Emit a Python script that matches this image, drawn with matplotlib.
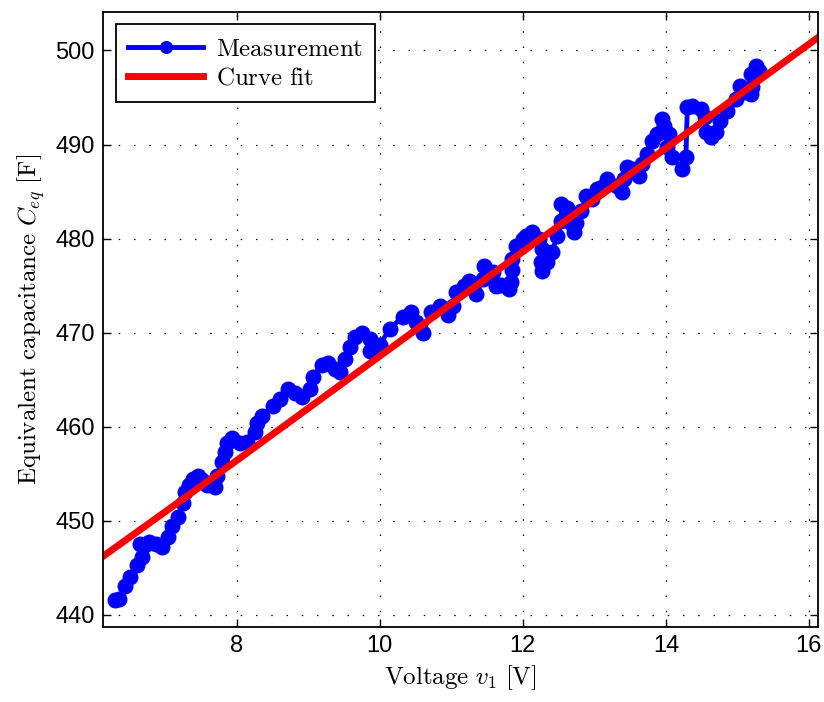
import matplotlib
matplotlib.use("Agg")
import matplotlib.pyplot as plt

plt.rcParams["mathtext.fontset"] = "cm"

# Measured equivalent capacitance vs. voltage
volt = [
    6.30, 6.36, 6.44, 6.51, 6.60, 6.67, 6.65, 6.72, 6.78, 6.87,
    6.95, 7.04, 7.09, 7.18, 7.25, 7.27, 7.33, 7.39, 7.46, 7.52,
    7.58, 7.69, 7.73, 7.79, 7.83, 7.87, 7.93, 8.04, 8.14, 8.25,
    8.28, 8.36, 8.50, 8.60, 8.71, 8.81, 8.91, 9.02, 9.06, 9.19,
    9.27, 9.37, 9.44, 9.51, 9.58, 9.65, 9.75, 9.86, 9.86, 9.97,
    10.00, 10.14, 10.32, 10.44, 10.51, 10.60, 10.72, 10.84, 10.95, 11.02,
    11.07, 11.18, 11.25, 11.35, 11.44, 11.46, 11.58, 11.63, 11.70, 11.81,
    11.84, 11.85, 11.85, 11.91, 12.00, 12.05, 12.13, 12.23, 12.27, 12.26,
    12.27, 12.34, 12.41, 12.48, 12.54, 12.54, 12.62, 12.68, 12.72, 12.75,
    12.82, 12.89, 12.97, 13.04, 13.11, 13.18, 13.31, 13.38, 13.42, 13.45,
    13.53, 13.63, 13.67, 13.74, 13.81, 13.87, 13.94, 13.98, 14.05, 14.02,
    14.09, 14.22, 14.28, 14.30, 14.37, 14.49, 14.54, 14.56, 14.63, 14.70,
    14.75, 14.86, 14.98, 15.03, 15.12, 15.19, 15.21, 15.19, 15.26, 15.30,
]
cap = [
    441.6, 441.7, 443.0, 444.0, 445.3, 446.1, 447.5, 447.4, 447.7, 447.5,
    447.2, 448.3, 449.4, 450.4, 451.9, 453.0, 453.8, 454.4, 454.7, 454.3,
    453.8, 453.6, 454.7, 456.2, 457.3, 458.3, 458.8, 458.3, 458.4, 459.4,
    460.4, 461.1, 462.2, 462.9, 464.0, 463.6, 463.1, 464.0, 465.3, 466.6,
    466.8, 466.1, 465.8, 467.2, 468.5, 469.5, 470.0, 469.3, 468.0, 468.5,
    468.7, 470.4, 471.7, 472.2, 471.1, 470.0, 472.2, 472.8, 471.9, 472.8,
    474.3, 474.9, 475.5, 474.1, 475.7, 477.1, 476.4, 474.9, 475.1, 474.6,
    475.4, 476.7, 477.8, 479.2, 479.9, 480.3, 480.7, 479.9, 478.9, 477.5,
    476.5, 477.5, 478.6, 480.3, 481.9, 483.7, 483.3, 481.7, 480.7, 481.7,
    482.9, 484.5, 484.2, 485.3, 485.5, 486.3, 485.6, 484.9, 486.3, 487.6,
    487.4, 486.6, 487.9, 489.0, 490.4, 491.1, 492.7, 492.0, 491.1, 489.7,
    488.7, 487.4, 488.7, 494.0, 494.1, 493.8, 492.9, 491.3, 490.8, 491.3,
    492.5, 493.6, 494.8, 496.2, 495.6, 495.4, 496.1, 497.5, 498.3, 497.8,
]

# Fitted curve
fit_volt = [6.13, 8.0, 10.0, 12.0, 14.0, 16.13]
fit_cap = [446.2, 456.4, 467.5, 478.6, 489.6, 501.4]

xticks = [8, 10, 12, 14, 16]
yticks = [440, 450, 460, 470, 480, 490, 500]

fig = plt.figure(figsize=(8.24, 7.02), dpi=100)
ax = fig.add_axes([0.125, 0.107, 0.868, 0.876])

ax.plot(volt, cap, color="blue", linewidth=3.5, marker="o", markersize=10.5,
        markerfacecolor="blue", markeredgecolor="blue", label=r"$\mathrm{Measurement}$")
ax.plot(fit_volt, fit_cap, color="red", linewidth=5, label=r"$\mathrm{Curve\ fit}$")

ax.set_xlim(6.13, 16.13)
ax.set_ylim(438.7, 504.1)
ax.set_xticks(xticks)
ax.set_yticks(yticks)
ax.set_xticklabels([str(t) for t in xticks], family="Liberation Sans", fontsize=17)
ax.set_yticklabels([str(t) for t in yticks], family="Liberation Sans", fontsize=17)
ax.tick_params(direction="in", top=True, right=True, length=6, width=1, pad=6)

ax.grid(True, color="black", linewidth=0.9, linestyle=(0, (1.2, 11)))
for s in ax.spines.values():
    s.set_linewidth(1.3)

ax.set_xlabel(r"$\mathrm{Voltage}\ v_1\ [\mathrm{V}]$", fontsize=18, labelpad=4)
ax.set_ylabel(r"$\mathrm{Equivalent\ capacitance}\ C_{eq}\ [\mathrm{F}]$", fontsize=18, labelpad=6)

leg = ax.legend(loc="upper left", numpoints=1, fontsize=18, handlelength=3.0,
                markerscale=0.8, fancybox=False, framealpha=1, edgecolor="black",
                borderaxespad=0.5, labelspacing=0.2, handletextpad=0.5,
                borderpad=0.5)
leg.get_frame().set_linewidth(1.3)

fig.savefig("out.png", dpi=100)
